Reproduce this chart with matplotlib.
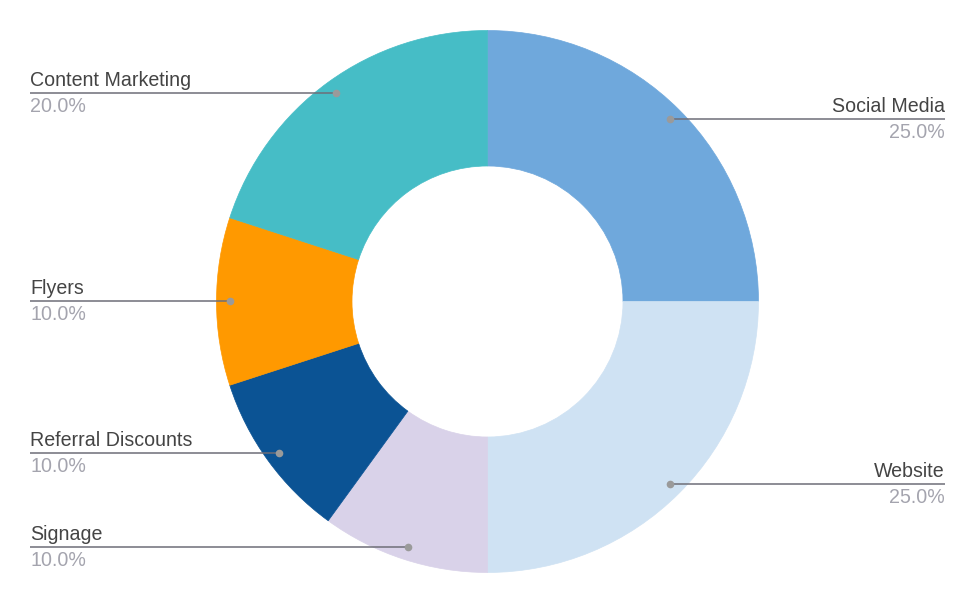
import matplotlib
matplotlib.use("Agg")
import matplotlib.pyplot as plt
import numpy as np

categories = ["Social Media", "Website", "Signage", "Referral Discounts", "Flyers", "Content Marketing"]
values = [25.0, 25.0, 10.0, 10.0, 10.0, 20.0]
colors = ["#6fa8dc", "#cfe2f3", "#d9d2e9", "#0b5394", "#ff9900", "#46bdc6"]

W, H = 975, 603
fig = plt.figure(figsize=(W / 100, H / 100), dpi=100)
ax = fig.add_axes([0, 0, 1, 1])

cx, cy = 487.5, H - 301.5
R = 271
wedges, _ = ax.pie(values, colors=colors, startangle=90, counterclock=False,
                   radius=R, center=(cx, cy),
                   wedgeprops=dict(width=R * 0.5, linewidth=0.5),
                   frame=True)
for w in wedges:
    w.set_edgecolor(w.get_facecolor())
ax.set_xlim(0, W)
ax.set_ylim(0, H)
ax.set_aspect("equal")
ax.axis("off")

total = sum(values)
for w, name, v in zip(wedges, categories, values):
    ang = np.deg2rad((w.theta1 + w.theta2) / 2)
    r_dot = R * 0.952
    dx = cx + r_dot * np.cos(ang)
    dy = cy + r_dot * np.sin(ang)
    if np.cos(ang) >= 0:
        xe = 945
        ha = "right"
    else:
        xe = 30
        ha = "left"
    ax.plot([dx, xe], [dy, dy], color="#6e6e78", lw=1.1, solid_capstyle="butt", zorder=3)
    ax.plot([dx], [dy], "o", color="#9a9a9a", ms=5.5, mec="none", zorder=4)
    ax.text(xe, dy + 7, name, ha=ha, va="baseline", fontsize=14.1,
            family="Liberation Sans", color="#444444")
    ax.text(xe, dy - 19, f"{v / total * 100:.1f}%", ha=ha, va="baseline", fontsize=14.1,
            family="Liberation Sans", color="#a4a4ae")

fig.savefig("out.png", dpi=100, facecolor="white")
